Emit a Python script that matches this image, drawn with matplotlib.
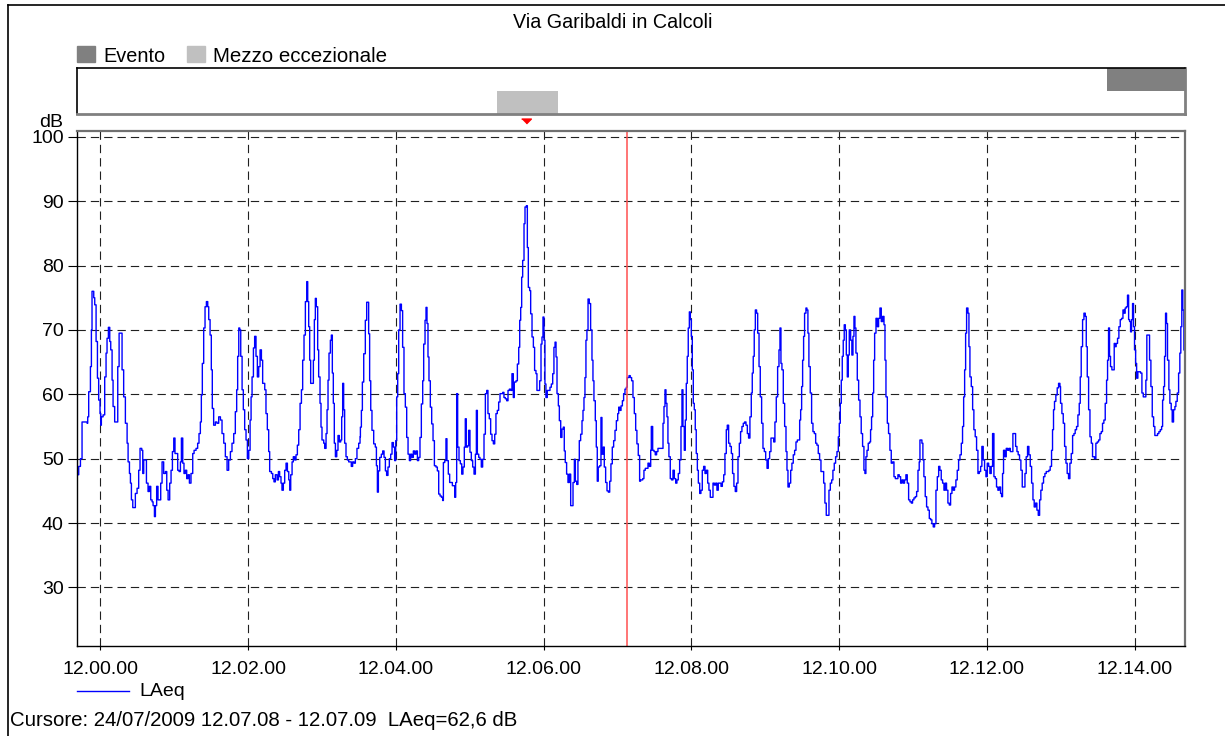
import matplotlib
matplotlib.use('Agg')
import matplotlib.pyplot as plt
import numpy as np
from matplotlib.lines import Line2D
from matplotlib.patches import Rectangle
from matplotlib.transforms import blended_transform_factory

plt.rcParams['font.family'] = ['Liberation Sans', 'DejaVu Sans']
plt.rcParams['font.size'] = 14
plt.rcParams['lines.scale_dashes'] = False

title = 'Via Garibaldi in Calcoli'

# LAeq trace, seconds from 12.00.00 and level in dB
t_s = [
    -19.0, -17.6, -16.2, -14.9, -10.8, -10.3, -9.5, -8.1, -7.3, -6.8,
    -5.4, -4.6, -3.5, -2.4, -1.4, -0.3, 0.3, 0.8, 2.2, 3.5,
    4.6, 5.4, 6.5, 7.6, 8.4, 9.5, 10.3, 11.6, 14.1, 15.2,
    17.6, 18.9, 20.3, 21.7, 22.5, 23.6, 24.4, 25.2, 26.3, 28.4,
    29.8, 31.1, 32.2, 33.6, 34.4, 35.2, 37.4, 38.7, 39.8, 40.9,
    42.0, 42.8, 43.9, 44.7, 45.7, 46.8, 49.0, 50.1, 51.4, 52.8,
    53.9, 55.0, 56.3, 57.4, 58.5, 59.6, 60.6, 62.8, 63.9, 65.0,
    65.8, 66.9, 67.9, 69.0, 70.1, 71.2, 72.3, 73.6, 75.0, 76.1,
    77.7, 79.0, 80.1, 81.2, 82.0, 82.8, 83.9, 85.0, 86.1, 87.2,
    88.0, 89.1, 90.1, 90.9, 92.0, 93.4, 94.7, 96.1,
    97.5, 98.8, 100.2, 101.5, 102.9, 104.2, 105.6, 106.9, 108.3, 109.6,
    110.7, 111.5, 112.4, 113.2, 114.0, 115.1, 116.1, 117.2, 118.3, 119.4,
    120.5, 121.6, 122.4, 123.2, 124.3, 125.3, 126.4, 127.5, 128.6, 129.7,
    130.8, 131.8, 133.5, 134.5, 135.6, 136.7, 137.5, 138.9, 140.0, 141.0,
    142.1, 143.5, 144.6, 145.6, 146.7, 147.5, 148.6, 149.7, 150.8, 151.9,
    153.0, 153.8, 154.6, 155.7, 156.7, 157.8, 158.9, 160.0, 161.1, 162.2,
    163.3, 164.3, 165.4, 166.5, 167.6, 168.4, 169.2, 170.0, 170.8, 173.0,
    173.8, 174.6, 175.4, 176.5, 177.3, 178.4, 179.2, 180.0, 181.4, 182.2,
    183.3, 184.1, 184.9, 185.7, 186.8, 187.6, 188.4, 189.2, 190.0, 190.9,
    192.0, 193.0, 194.1, 195.2, 196.0, 196.8, 197.6, 198.4, 199.5, 200.6,
    201.7, 203.8, 204.9, 206.0, 207.1, 208.4, 209.8, 210.9,
    211.2, 212.0, 212.8, 213.9, 215.2, 216.3, 217.9, 218.7, 219.6, 220.6,
    222.0, 223.3, 224.2, 225.0, 225.8, 226.9, 228.2, 229.3, 230.4, 231.5,
    232.5, 233.6, 234.7, 235.8, 236.9, 238.0, 239.0, 239.9, 240.7, 241.5,
    242.3, 243.4, 244.5, 245.5, 246.6, 247.7, 248.8, 249.9, 251.0, 252.0,
    253.1, 254.2, 255.3, 256.4, 257.5, 258.5, 259.6, 260.7, 261.8, 262.6,
    263.7, 264.5, 265.3, 266.1, 266.9, 268.0, 269.1, 270.2, 271.3, 272.6,
    273.7, 274.8, 275.9, 277.0, 278.0, 278.6, 279.7, 280.7, 281.5, 282.6,
    283.7, 285.9, 287.8, 288.6, 289.4, 290.2, 291.3, 292.4, 293.5, 294.5,
    295.6, 296.4, 297.2, 298.3, 299.1, 300.2, 301.3, 302.4, 303.5, 304.6,
    305.4, 306.2, 307.3, 308.3, 309.4, 310.5, 311.6, 312.7, 313.8, 314.8,
    315.9, 317.0, 318.1, 319.2, 320.3, 321.3, 322.4, 323.5, 324.6,
    325.7, 326.8, 327.8, 328.9, 330.0, 331.1, 332.2, 333.3, 334.3, 335.4,
    336.2, 337.6, 338.7, 339.8, 340.6, 341.4, 342.2, 343.0, 344.1, 344.9,
    346.0, 346.8, 347.6, 348.7, 349.5, 350.6, 351.7, 352.7, 353.8, 354.6,
    356.8, 357.9, 358.7, 359.5, 360.3, 361.1, 361.9, 363.0, 365.2, 366.3,
    367.4, 368.4, 369.3, 370.1, 370.9, 372.0, 372.8, 373.9, 374.9, 376.0,
    376.8, 377.6, 378.7, 379.8, 380.9, 382.0, 383.9, 385.0, 385.8, 386.9,
    387.9, 389.0, 390.1, 391.2, 392.0, 392.8, 393.6, 394.4, 395.2, 396.1,
    397.1, 398.2, 399.3, 400.1, 400.9, 402.0, 402.8, 403.6, 404.4, 405.5,
    406.6, 407.4, 408.5, 409.3, 410.4, 411.5, 412.6, 413.7, 414.7, 415.8,
    416.9, 418.0, 419.1, 420.2, 421.0, 421.8, 422.9, 424.0, 425.0, 426.1,
    427.2, 428.0, 429.4, 430.4, 431.5, 432.6, 433.7, 434.8, 435.8, 436.9,
    438.0,
    438.8, 440.5, 441.5, 442.6, 444.8, 445.9, 447.0, 447.5, 448.6, 449.7,
    450.7, 451.8, 452.9, 457.0, 457.8, 458.6, 459.4, 460.2, 461.0, 461.8,
    462.9, 464.0, 465.1, 466.2, 467.3, 468.3, 469.4, 470.5, 471.6, 472.4,
    473.2, 474.3, 475.1, 475.9, 476.7, 477.5, 478.4, 479.2, 480.0, 480.8,
    481.6, 482.4, 483.2, 484.0, 484.9, 485.7, 486.8, 487.8, 488.9, 490.0,
    491.1, 492.2, 493.3, 494.3, 495.4, 497.6, 498.7, 499.8, 500.8, 501.9,
    504.1, 505.2, 506.3, 507.3, 508.4, 509.2, 510.3, 511.4, 512.5, 513.5,
    514.6, 515.7, 516.8, 517.9, 519.0, 520.0, 521.1, 522.2, 523.3, 524.4,
    525.5, 526.5, 527.6, 528.7, 529.5, 530.3, 531.1, 532.0, 533.0, 533.9,
    535.0, 536.0, 537.1, 538.2, 539.3, 540.4, 541.5, 542.5, 543.6, 544.7,
    546.9, 547.9, 549.0, 550.1, 551.2, 552.0,
    552.8, 553.6, 554.7, 555.8, 556.9, 557.7, 558.5, 559.6, 560.7, 561.7,
    562.8, 563.9, 565.0, 566.1, 568.0, 568.8, 569.6, 570.4, 571.2, 572.0,
    573.1, 573.9, 574.7, 575.5, 576.6, 577.7, 578.8, 579.9, 581.0, 582.0,
    583.1, 584.2, 585.3, 587.5, 588.5, 589.6, 591.8, 592.9, 594.0, 595.0,
    596.1, 597.2, 598.3, 599.4, 600.2, 601.0, 601.8, 602.6, 603.4, 604.2,
    605.1, 605.9, 606.7, 607.5, 608.3, 609.4, 610.4, 611.3, 612.1, 612.9,
    613.7, 614.8, 615.9, 617.0, 618.0, 619.1, 620.2, 621.0, 621.8, 622.7,
    623.7, 624.8, 625.6, 626.4, 627.3, 628.1, 628.9, 630.0, 631.1, 632.1,
    633.2, 634.3, 635.4, 636.5, 637.3, 638.1, 639.2, 640.2, 641.3, 642.4,
    643.5, 644.6, 645.7, 647.8, 648.9, 650.0, 651.1, 652.2, 653.2, 654.3,
    655.4, 656.5, 657.6, 658.7, 659.7, 660.8, 661.9, 663.0, 664.1, 665.1,
    665.7,
    666.2, 667.3, 668.1, 668.9, 670.0, 671.1, 672.2, 673.3, 674.4, 675.4,
    676.5, 677.6, 678.7, 679.8, 680.9, 681.9, 683.0, 684.1, 685.2, 686.3,
    687.3, 688.4, 689.5, 690.6, 691.7, 692.8, 693.8, 694.9, 696.0, 697.1,
    698.2, 699.3, 700.3, 701.2, 702.0, 702.8, 703.6, 704.7, 705.5, 706.3,
    707.4, 708.5, 709.5, 710.6, 711.7, 712.8, 713.9, 715.0, 716.0, 717.1,
    718.2, 719.3, 720.4, 721.5, 722.5, 723.6, 724.7, 725.8, 726.9, 727.9,
    729.0, 730.1, 731.2, 732.0, 732.8, 733.6, 734.7, 735.8, 736.9, 738.0,
    739.1, 741.2, 743.4, 744.5, 745.5, 746.6, 747.7, 748.8, 751.0, 752.0,
    753.1, 754.2, 755.3, 756.4, 757.5, 758.5, 759.6, 760.7, 761.8, 762.9,
    763.9, 765.0, 766.1, 767.2, 768.3, 770.4, 771.5, 772.6, 773.4, 774.2,
    775.0, 776.1, 777.2, 778.3, 779.4,
    779.9, 781.0, 782.1, 783.2, 784.3, 785.3, 786.4, 787.5, 788.6, 789.7,
    790.8, 791.8, 792.9, 794.0, 795.1, 795.9, 796.7, 797.8, 798.9, 800.0,
    800.8, 801.6, 802.7, 803.8, 804.9, 805.9, 807.5, 808.6, 809.7, 810.8,
    811.9, 813.0, 814.0, 815.1, 816.2, 817.3, 818.1, 818.9, 819.7, 820.5,
    821.6, 823.5, 824.3, 825.1, 826.2, 827.3, 828.4, 829.5, 830.6, 831.6,
    832.4, 833.3, 834.3, 835.2, 836.0, 836.8, 837.6, 838.4, 839.2, 840.0,
    840.9, 841.7, 842.7, 844.9, 846.0, 847.1, 849.2, 850.0, 852.2, 853.3,
    854.4, 855.5, 856.5, 858.7, 859.8, 860.9, 862.0, 862.8, 863.6, 864.4,
    865.2, 866.0, 866.8, 867.9, 868.7, 869.8, 870.6, 871.7, 872.8, 873.6,
    874.7, 875.8, 876.8, 877.6, 878.4, 879.2, 880.1,
]
laeq = [
    47.5, 48.8, 50.0, 55.7, 55.5, 56.5, 60.4, 64.3, 70.0, 76.0,
    75.0, 73.9, 68.2, 62.5, 59.1, 57.0, 55.2, 56.5, 56.8, 62.7,
    66.4, 68.7, 70.4, 68.2, 66.9, 62.2, 58.1, 55.7, 64.3, 69.5,
    63.8, 59.6, 55.5, 52.4, 49.5, 47.7, 46.2, 43.6, 42.4, 44.6,
    45.4, 48.2, 51.6, 51.3, 47.7, 49.8, 46.2, 44.9, 45.7, 43.6,
    43.3, 42.7, 41.0, 42.7, 45.7, 43.6, 46.2, 49.5, 47.7, 48.0,
    45.1, 43.6, 46.2, 48.2, 51.1, 53.2, 50.8, 48.2, 48.0, 49.5,
    53.2, 49.3, 47.7, 48.2, 46.9, 47.5, 46.2, 47.7, 50.8, 51.3,
    51.6, 52.4, 53.9, 55.7, 59.9, 64.8, 70.3, 73.6, 74.4, 73.6,
    71.6, 69.2, 63.8, 57.8, 55.2, 55.7, 55.5, 56.5,
    56.0, 53.9, 52.4, 50.3, 48.2, 49.8, 51.1, 52.4, 53.9, 57.3,
    60.7, 65.9, 70.3, 70.0, 65.9, 60.7, 57.6, 54.5, 52.9, 50.0,
    51.3, 56.0, 59.6, 62.7, 67.2, 69.0, 65.9, 62.7, 64.3, 66.9,
    65.3, 61.7, 60.7, 57.0, 54.5, 51.1, 48.0, 47.7, 46.9, 46.4,
    47.5, 46.7, 48.0, 47.2, 46.2, 45.1, 46.2, 48.2, 49.3, 48.0,
    46.7, 45.1, 47.5, 49.5, 50.3, 49.8, 50.6, 52.1, 54.5, 58.6,
    60.7, 65.3, 69.2, 74.4, 77.5, 74.4, 70.5, 65.3, 61.7, 65.3,
    71.6, 74.9, 73.6, 66.9, 62.7, 58.6, 54.9, 52.9, 52.4, 51.6,
    53.9, 57.6, 62.2, 66.4, 68.4, 69.2, 63.3, 58.6, 52.4, 50.3,
    51.3, 53.6, 52.6, 52.9, 56.5, 61.7, 57.6, 52.4, 50.3, 49.8,
    49.5, 48.8, 49.5, 49.3, 50.0, 51.6, 52.4, 53.4,
    54.9, 57.5, 61.9, 66.3, 71.5, 74.3, 69.4, 62.1, 57.5, 54.4,
    52.3, 51.8, 48.9, 44.8, 48.1, 50.2, 50.7, 51.2, 50.2, 48.1,
    47.4, 48.7, 50.0, 50.7, 52.5, 51.8, 49.7, 52.8, 59.6, 63.2,
    70.0, 74.0, 73.0, 67.3, 60.1, 58.0, 53.3, 50.7, 49.7, 50.7,
    50.2, 51.2, 50.7, 51.2, 49.7, 50.2, 53.3, 58.5, 62.1, 67.8,
    71.5, 73.5, 71.0, 65.8, 62.1, 58.0, 55.4, 52.8, 48.9, 48.7,
    48.1, 44.5, 44.2, 44.0, 43.5, 49.4, 49.7, 53.1, 49.7, 47.6,
    46.3, 45.8, 44.0, 46.3, 60.1, 51.8, 49.7, 49.2, 47.6, 48.7,
    51.8, 56.2, 51.8, 52.0, 54.4, 51.0, 49.7, 48.7, 47.6, 50.7,
    57.5, 50.7, 50.2, 49.9, 48.7, 49.9, 53.8, 60.1, 60.6, 57.0,
    56.2, 53.8, 52.8, 52.3, 53.8, 57.0, 57.5, 58.8, 60.1,
    60.1, 60.3, 59.5, 59.3, 59.0, 60.6, 60.8, 60.6, 63.2, 59.5,
    61.9, 62.1, 64.7, 67.3, 71.5, 73.5, 78.2, 80.8, 86.5, 89.1,
    89.3, 82.8, 76.6, 76.1, 72.5, 68.9, 67.3, 63.7, 63.2, 60.6,
    62.1, 67.8, 68.9, 72.0, 68.4, 61.6, 59.5, 60.6, 61.1, 61.6,
    63.2, 67.3, 68.1, 65.8, 60.1, 58.2, 55.9, 53.3, 54.6, 54.9,
    51.2, 49.4, 47.6, 46.3, 47.6, 42.7, 46.3, 49.9, 46.5, 46.0,
    49.7, 52.8, 53.8, 55.9, 57.5, 59.5, 62.6, 68.4, 70.0, 74.8,
    74.1, 70.0, 65.3, 62.1, 59.0, 55.9, 51.8, 46.5, 48.7, 48.9,
    56.4, 50.7, 51.8, 48.7, 46.3, 45.0, 44.8, 46.5, 49.2, 51.8,
    52.8, 54.4, 55.9, 57.0, 58.0, 57.5, 58.2, 59.0, 60.1, 60.8,
    61.1, 62.6, 62.9, 62.6, 62.1, 59.5, 57.0, 54.4, 52.3, 50.5,
    46.5,
    46.7, 46.9, 48.2, 48.5, 49.3, 48.8, 51.3, 55.0, 51.3, 51.1,
    50.6, 51.1, 51.6, 55.5, 58.1, 60.7, 58.6, 56.5, 52.4, 50.3,
    46.9, 46.7, 48.2, 46.9, 46.2, 46.7, 47.7, 49.8, 55.0, 60.7,
    55.0, 51.3, 56.0, 61.7, 65.9, 70.3, 72.8, 71.6, 69.0, 63.8,
    58.6, 57.6, 54.5, 50.8, 48.2, 46.2, 44.6, 45.1, 48.2, 48.8,
    47.7, 48.2, 46.2, 45.1, 44.0, 46.2, 45.9, 46.2, 45.1, 46.2,
    45.7, 46.4, 47.5, 50.8, 54.5, 55.2, 52.4, 51.9, 50.8, 47.7,
    45.7, 44.9, 46.2, 50.3, 52.4, 54.2, 55.0, 55.5, 55.7, 55.2,
    53.9, 53.2, 56.5, 60.2, 63.3, 65.9, 70.0, 73.1, 72.6, 69.5,
    64.3, 59.6, 55.5, 51.6, 51.1, 49.8, 48.5, 50.0, 51.1, 53.2,
    52.6, 55.7, 59.6, 64.3, 66.9, 70.3,
    64.8, 63.8, 58.6, 55.0, 51.1, 48.2, 45.6, 46.2, 48.2, 49.3,
    50.6, 51.3, 52.6, 52.9, 56.0, 57.6, 61.2, 65.3, 69.0, 72.6,
    73.4, 73.1, 69.5, 64.3, 60.2, 55.5, 54.2, 53.9, 52.4, 52.1,
    50.8, 49.8, 48.0, 46.2, 43.1, 41.2, 45.1, 46.2, 46.7, 48.2,
    49.3, 50.3, 51.1, 53.4, 55.5, 58.6, 62.2, 65.9, 68.4, 70.8,
    70.0, 66.1, 62.7, 66.1, 70.0, 68.4, 66.1, 69.0, 72.1, 70.3,
    66.4, 62.2, 59.1, 56.5, 53.9, 51.9, 48.2, 47.7, 50.3, 51.3,
    52.4, 52.6, 54.5, 56.5, 60.2, 65.3, 69.5, 71.8, 70.5, 71.8,
    73.4, 71.3, 72.1, 70.8, 65.3, 59.6, 55.5, 53.9, 51.3, 49.3,
    49.5, 47.2, 46.9, 47.5, 47.2, 46.2, 46.7, 46.2, 46.7, 47.5,
    46.2, 43.6, 43.3, 43.1, 43.6, 43.9, 44.1, 44.9, 48.2, 49.5,
    52.9,
    52.9, 52.4, 49.8, 47.2, 44.1, 42.5, 42.0, 40.7, 40.5, 39.9,
    39.4, 39.9, 45.1, 47.2, 48.8, 48.2, 46.7, 46.2, 45.1, 46.2,
    45.1, 43.1, 42.8, 44.6, 45.6, 45.1, 45.6, 46.7, 48.2, 49.8,
    50.6, 52.4, 55.0, 59.6, 63.8, 69.5, 73.4, 72.6, 67.4, 62.7,
    61.2, 57.6, 54.5, 53.4, 51.3, 47.7, 48.0, 48.8, 51.9, 49.8,
    48.2, 47.2, 49.3, 48.8, 47.7, 48.8, 53.9, 47.2, 46.9, 45.6,
    45.1, 45.6, 44.6, 44.1, 47.7, 51.3, 50.3, 51.6, 51.3, 51.6,
    51.1, 53.9, 51.9, 51.1, 50.6, 49.8, 48.2, 45.6, 47.7, 50.3,
    51.9, 50.6, 48.8, 46.2, 43.6, 42.5, 43.1, 42.0, 41.2, 43.6,
    45.1, 46.2, 47.2, 47.7, 48.0, 48.2, 48.8, 51.3, 54.5, 57.6,
    58.9, 59.9, 61.0, 61.7, 61.2,
    58.6, 57.0, 55.5, 51.9, 49.3, 47.7, 46.9, 49.3, 50.8, 53.6,
    53.9, 54.5, 55.0, 56.8, 58.6, 62.7, 67.4, 71.6, 72.6, 72.1,
    67.4, 62.7, 57.6, 53.4, 52.4, 50.3, 50.0, 52.4, 52.6, 52.9,
    53.9, 54.2, 55.5, 56.0, 58.6, 62.2, 65.3, 70.3, 65.9, 64.3,
    63.8, 67.9, 67.4, 67.9, 68.7, 70.5, 71.6, 71.8, 73.1, 72.6,
    73.4, 73.6, 75.4, 71.6, 71.3, 69.7, 71.6, 74.1, 70.5, 66.9,
    64.8, 62.5, 63.5, 63.3, 60.2, 59.6, 62.2, 69.2, 65.3, 61.2,
    56.5, 55.0, 53.6, 53.9, 54.2, 54.5, 55.0, 59.1, 61.2, 65.9,
    72.6, 71.0, 65.3, 60.7, 58.6, 57.6, 55.7, 57.6, 58.1, 58.9,
    60.2, 63.3, 66.4, 70.5, 76.2, 73.1, 66.9,
]

# measurement window 11.59.41 - 12.14.41
t_start, t_end = -19, 881
xtick_s = [0, 120, 240, 360, 480, 600, 720, 840]
xtick_labels = ['12.00.00', '12.02.00', '12.04.00', '12.06.00',
                '12.08.00', '12.10.00', '12.12.00', '12.14.00']
ytick_db = [30, 40, 50, 60, 70, 80, 90, 100]

# marked intervals (seconds from 12.00.00)
mezzo_span = (322.4, 372.0)
evento_span = (817.8, 881.0)

cursor_t = 428  # 12.07.08
cursor_text = 'Cursore: 24/07/2009 12.07.08 - 12.07.09  LAeq=62,6 dB'

W, H = 1225, 736


def box(x0, y0, x1, y1):
    # pixel box (top-left origin) -> figure rect
    return [x0 / W, 1 - y1 / H, (x1 - x0) / W, (y1 - y0) / H]


fig = plt.figure(figsize=(W / 100, H / 100), dpi=100)

# outer frame
fig.add_artist(Line2D([8 / W, 1], [1 - 5 / H, 1 - 5 / H], color='black', lw=1.2))
fig.add_artist(Line2D([8 / W, 8 / W], [0, 1 - 5 / H], color='black', lw=1.2))

fig.text(0.5, 1 - 28 / H, title, ha='center', va='baseline', fontsize=14.2)

# legend of the marked intervals
fig.add_artist(Rectangle((77 / W, 1 - 62 / H), 18 / W, 16 / H,
                         transform=fig.transFigure, color='#808080'))
fig.text(103 / W, 1 - 62 / H, 'Evento', va='baseline', fontsize=14.3)
fig.add_artist(Rectangle((187 / W, 1 - 62 / H), 18 / W, 16 / H,
                         transform=fig.transFigure, color='#c0c0c0'))
fig.text(213 / W, 1 - 62 / H, 'Mezzo eccezionale', va='baseline', fontsize=14.8)

# event strip
ax_ev = fig.add_axes(box(77, 68, 1185, 114))
ax_ev.set_xlim(t_start, t_end)
ax_ev.set_ylim(0, 1)
ax_ev.axvspan(*mezzo_span, ymin=0, ymax=0.5, color='#c0c0c0', lw=0)
ax_ev.axvspan(*evento_span, ymin=0.5, ymax=1, color='#808080', lw=0)
ax_ev.set_xticks([])
ax_ev.set_yticks([])
for side in ['top', 'left']:
    ax_ev.spines[side].set_color('black')
    ax_ev.spines[side].set_linewidth(1.2)
for side in ['bottom', 'right']:
    ax_ev.spines[side].set_color('#808080')
    ax_ev.spines[side].set_linewidth(2)

# main plot
ax = fig.add_axes(box(77, 131, 1185, 646))
ax.plot(t_s, laeq, color='#0000ff', lw=1.0, drawstyle='steps-post')
ax.set_xlim(t_start, t_end)
ax.set_ylim(20.9, 100.9)
ax.set_xticks(xtick_s)
ax.set_xticklabels(xtick_labels)
ax.set_yticks(ytick_db)
ax.grid(True, color='#202020', lw=0.8, linestyle=(0, (6, 3.6)))
ax.tick_params(axis='y', direction='out', length=6.5, width=0.8, pad=3, labelsize=14)
ax.tick_params(axis='x', direction='out', length=3, width=0.8, pad=8, labelsize=14)
for side in ['left', 'bottom']:
    ax.spines[side].set_color('black')
    ax.spines[side].set_linewidth(1.0)
for side in ['top', 'right']:
    ax.spines[side].set_color('#707070')
    ax.spines[side].set_linewidth(1.6)

ax.axvline(cursor_t, color='#ff5050', lw=1.1)

# peak marker above the plot
t_peak = t_s[int(np.argmax(laeq))]
trans = blended_transform_factory(ax.transData, ax.transAxes)
ax.plot([t_peak], [1.019], transform=trans, clip_on=False, color='#ff0000',
        marker=[(-1, 0.5), (1, 0.5), (0, -0.5)], markersize=7, lw=0)

fig.text(63 / W, 1 - 127 / H, 'dB', ha='right', va='baseline', fontsize=14)

# series legend and cursor readout
fig.add_artist(Line2D([77 / W, 129 / W], [1 - 691 / H, 1 - 691 / H], color='#0000ff', lw=1.0))
fig.text(139 / W, 1 - 691 / H, 'LAeq', va='center', fontsize=14)
fig.text(10 / W, 1 - 720 / H, cursor_text, va='center', fontsize=14.7)

fig.savefig('out.png', dpi=100)
